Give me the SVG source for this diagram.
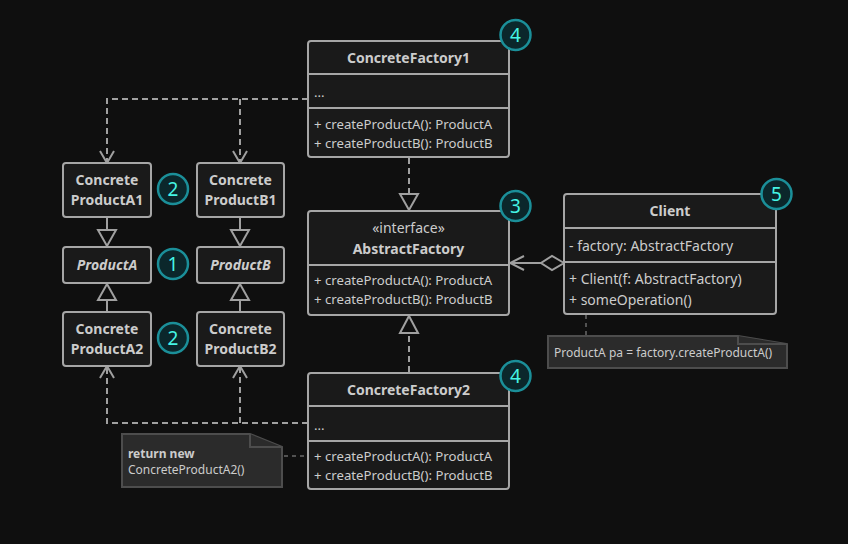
<svg xmlns="http://www.w3.org/2000/svg" width="848" height="544" viewBox="0 0 848 544">
<defs>
<style>
.bx{fill:#1a1a1a;stroke:#a6a6a6;stroke-width:2}
.dv{stroke:#a6a6a6;stroke-width:2}
.t{font-family:"Noto Sans","Open Sans",sans-serif;fill:#cccccc;font-size:13.2px}
.b{font-weight:bold;font-size:14px}
.c{text-anchor:middle}
.i{font-style:italic;font-weight:bold;font-size:14px}
.ln{fill:none;stroke:#a0a0a0;stroke-width:2}
.ds{fill:none;stroke:#a0a0a0;stroke-width:2;stroke-dasharray:6,4}
.tri{fill:#0f0f0f;stroke:#a0a0a0;stroke-width:2}
.bg circle{fill:#0b272b;stroke:#1b8f99;stroke-width:2.5}
.bg text{font-family:"Noto Sans","Open Sans",sans-serif;font-size:19px;fill:#45f5e5;text-anchor:middle}
.nt{fill:#2b2b2b;stroke:#4d4d4d;stroke-width:2}
.nd{fill:none;stroke:#6a6a6a;stroke-width:1.5;stroke-dasharray:4,4}
</style>
</defs>
<rect width="848" height="544" fill="#0f0f0f"/>

<g id="connectors">
  <path class="ds" d="M308 99 H107 V161"/>
  <path class="ds" d="M240 99 V161"/>
  <path class="ln" d="M100 151 L107 163 L114 151"/>
  <path class="ln" d="M233 151 L240 163 L247 151"/>
  <path class="ds" d="M308 423 H107 V368"/>
  <path class="ds" d="M240 423 V368"/>
  <path class="ln" d="M100 378 L107 366 L114 378"/>
  <path class="ln" d="M233 378 L240 366 L247 378"/>
  <path class="ln" d="M107 217 V230"/>
  <polygon class="tri" points="98,230 116,230 107,246"/>
  <path class="ln" d="M240 217 V230"/>
  <polygon class="tri" points="231,230 249,230 240,246"/>
  <path class="ln" d="M107 312 V300"/>
  <polygon class="tri" points="98,300 116,300 107,284"/>
  <path class="ln" d="M240 312 V300"/>
  <polygon class="tri" points="231,300 249,300 240,284"/>
  <path class="ds" d="M409 158 V194"/>
  <polygon class="tri" points="400,194 418,194 409,210"/>
  <path class="ds" d="M409 372 V333"/>
  <polygon class="tri" points="400,333 418,333 409,316"/>
  <path class="ln" d="M541 263 H510"/>
  <path class="ln" d="M524 256 L510 263 L524 270"/>
  <polygon class="tri" points="564,263 552,256 541,263 552,270"/>
  <path class="nd" d="M586 315 V336"/>
  <path class="nd" d="M284 456 H308"/>
</g>

<g id="ConcreteFactory1">
  <rect class="bx" x="308" y="41" width="201" height="116" rx="3"/>
  <line class="dv" x1="308" y1="74" x2="509" y2="74"/>
  <line class="dv" x1="308" y1="108" x2="509" y2="108"/>
  <text class="t b c" x="408.5" y="63">ConcreteFactory1</text>
  <text class="t" x="314" y="97">...</text>
  <text class="t" x="314" y="129">+ createProductA(): ProductA</text>
  <text class="t" x="314" y="148">+ createProductB(): ProductB</text>
</g>

<g id="ConcreteFactory2">
  <rect class="bx" x="308" y="373" width="201" height="116" rx="3"/>
  <line class="dv" x1="308" y1="406" x2="509" y2="406"/>
  <line class="dv" x1="308" y1="441" x2="509" y2="441"/>
  <text class="t b c" x="408.5" y="395">ConcreteFactory2</text>
  <text class="t" x="314" y="430">...</text>
  <text class="t" x="314" y="461">+ createProductA(): ProductA</text>
  <text class="t" x="314" y="480">+ createProductB(): ProductB</text>
</g>

<g id="AbstractFactory">
  <rect class="bx" x="308" y="211" width="201" height="104" rx="3"/>
  <line class="dv" x1="308" y1="265" x2="509" y2="265"/>
  <text class="t c" x="408.5" y="233" style="font-size:14px">«interface»</text>
  <text class="t b c" x="408.5" y="254">AbstractFactory</text>
  <text class="t" x="314" y="285">+ createProductA(): ProductA</text>
  <text class="t" x="314" y="304">+ createProductB(): ProductB</text>
</g>

<g id="Client">
  <rect class="bx" x="564" y="194" width="212" height="120" rx="3"/>
  <line class="dv" x1="564" y1="228" x2="776" y2="228"/>
  <line class="dv" x1="564" y1="262" x2="776" y2="262"/>
  <text class="t b c" x="670" y="216">Client</text>
  <text class="t" x="569" y="251" style="font-size:14px">- factory: AbstractFactory</text>
  <text class="t" x="569" y="284" style="font-size:14px">+ Client(f: AbstractFactory)</text>
  <text class="t" x="569" y="305" style="font-size:14px">+ someOperation()</text>
</g>

<g id="ConcreteProductA1">
  <rect class="bx" x="63" y="163" width="88" height="54" rx="3"/>
  <text class="t b c" x="107" y="185">Concrete</text>
  <text class="t b c" x="107" y="205">ProductA1</text>
</g>
<g id="ConcreteProductB1">
  <rect class="bx" x="197" y="163" width="87" height="54" rx="3"/>
  <text class="t b c" x="240.5" y="185">Concrete</text>
  <text class="t b c" x="240.5" y="205">ProductB1</text>
</g>
<g id="ProductA">
  <rect class="bx" x="63" y="247" width="88" height="36" rx="3"/>
  <text class="t i c" x="107" y="270">ProductA</text>
</g>
<g id="ProductB">
  <rect class="bx" x="197" y="247" width="87" height="36" rx="3"/>
  <text class="t i c" x="240.5" y="270">ProductB</text>
</g>
<g id="ConcreteProductA2">
  <rect class="bx" x="63" y="312" width="88" height="54" rx="3"/>
  <text class="t b c" x="107" y="334">Concrete</text>
  <text class="t b c" x="107" y="354">ProductA2</text>
</g>
<g id="ConcreteProductB2">
  <rect class="bx" x="197" y="312" width="87" height="54" rx="3"/>
  <text class="t b c" x="240.5" y="334">Concrete</text>
  <text class="t b c" x="240.5" y="354">ProductB2</text>
</g>

<g id="note-client">
  <path class="nt" d="M548 336 H738 L787 344 V368 H548 Z"/>
  <path class="nt" d="M738 336 V344 H787"/>
  <text class="t" x="554" y="357" style="font-size:12px">ProductA pa = factory.createProductA()</text>
</g>

<g id="note-cf2">
  <path class="nt" d="M122 434 H250 L282 447 V487 H122 Z"/>
  <path class="nt" d="M250 434 V447 H282"/>
  <text class="t" x="128" y="458" style="font-size:12px;font-weight:bold">return new</text>
  <text class="t" x="128" y="474" style="font-size:12px">ConcreteProductA2()</text>
</g>

<g id="badges" class="bg">
  <g id="badge-1"><circle cx="173" cy="264" r="15"/><text x="173" y="271">1</text></g>
  <g id="badge-2a"><circle cx="173" cy="189" r="15"/><text x="173" y="196">2</text></g>
  <g id="badge-2b"><circle cx="173" cy="338" r="15"/><text x="173" y="345">2</text></g>
  <g id="badge-3"><circle cx="515.5" cy="206" r="15"/><text x="515.5" y="213">3</text></g>
  <g id="badge-4a"><circle cx="515.5" cy="35" r="15"/><text x="515.5" y="42">4</text></g>
  <g id="badge-4b"><circle cx="515.5" cy="376" r="15"/><text x="515.5" y="383">4</text></g>
  <g id="badge-5"><circle cx="776.5" cy="194" r="15"/><text x="776.5" y="201">5</text></g>
</g>
</svg>
